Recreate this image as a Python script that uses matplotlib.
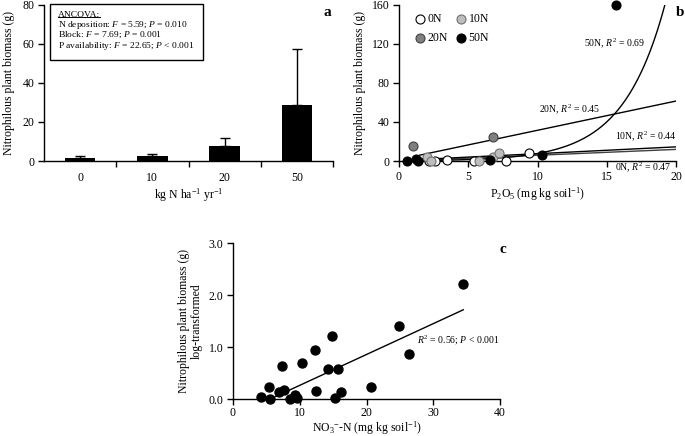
import numpy as np
import matplotlib
matplotlib.use('Agg')
import matplotlib.pyplot as plt
from matplotlib.lines import Line2D
from matplotlib.patches import Rectangle

plt.rcParams['font.family'] = ['Liberation Serif', 'DejaVu Serif']
plt.rcParams['mathtext.fontset'] = 'custom'
plt.rcParams['mathtext.rm'] = 'Liberation Serif'
plt.rcParams['mathtext.it'] = 'Liberation Serif:italic'
plt.rcParams['font.size'] = 8
plt.rcParams['axes.linewidth'] = 1.0

# panel a: mean biomass by N deposition
n_levels = ['0', '10', '20', '50']
biomass_mean = [1.5, 2.5, 7.5, 28.5]
biomass_err = [1.3, 1.3, 4.5, 28.8]

# panel b: biomass vs P2O5, by N treatment
p_0n = [2.2, 2.6, 3.5, 5.4, 7.7, 9.4]
b_0n = [0.5, 0.3, 0.8, 0.2, 0.0, 8.0]
p_10n = [2.0, 2.3, 5.8, 6.8, 7.25]
b_10n = [3.8, 0.2, 0.0, 4.5, 8.0]
p_20n = [1.0, 6.8]
b_20n = [15.5, 25.0]
p_50n = [0.55, 1.25, 1.4, 6.6, 10.3, 15.7]
b_50n = [0.5, 2.5, 0.3, 0.8, 6.5, 160.0]

# trendline coefficients
fit_0n = (0.6, -0.1)      # slope, intercept
fit_10n = (0.7, 0.5)
fit_20n = (3.0, 1.5)
fit_50n = (0.284, 0.33)   # a * exp(b x)

# panel c: log biomass vs nitrate
no3 = [4.2, 5.4, 5.6, 6.9, 7.4, 7.6, 8.5, 9.3, 9.6, 10.3, 12.3, 12.4,
       14.3, 14.9, 15.3, 15.8, 16.2, 20.6, 24.9, 26.4, 34.5]
log_biomass = [0.04, 0.24, 0.0, 0.13, 0.64, 0.18, 0.0, 0.08, 0.02, 0.69, 0.94, 0.16,
               0.57, 1.22, 0.02, 0.58, 0.13, 0.24, 1.41, 0.87, 2.22]
fit_c = (0.0593, -0.33)

fig = plt.figure(figsize=(6.85, 4.36), dpi=100)
W, H = 685, 436


def box(l, t, r, b):
    return [l / W, 1 - b / H, (r - l) / W, (b - t) / H]


def style(ax):
    ax.spines['top'].set_visible(False)
    ax.spines['right'].set_visible(False)
    ax.tick_params(direction='out', length=4, width=1, labelsize=8.5, pad=3)


# ---- panel a ----
ax1 = fig.add_axes(box(44, 5, 333, 161))
style(ax1)
x = np.arange(len(n_levels))
ax1.bar(x, biomass_mean, width=0.42, color='black',
        yerr=[np.zeros(len(x)), biomass_err], capsize=3.5,
        error_kw=dict(ecolor='black', elinewidth=1, capthick=1))
ax1.set_xlim(-0.5, 3.5)
ax1.set_ylim(0, 80)
ax1.set_yticks([0, 20, 40, 60, 80])
ax1.set_xticks(x)
ax1.set_xticklabels(n_levels)
ax1.tick_params(axis='x', which='major', length=0, pad=8)
ax1.set_xticks([0.5, 1.5, 2.5, 3.5], minor=True)
ax1.tick_params(axis='x', which='minor', length=4, width=1, direction='out')
ax1.set_xlabel(r'kg N ha$^{-1}$ yr$^{-1}$', fontsize=8.5, labelpad=2)
ax1.set_ylabel('Nitrophilous plant biomass (g)', fontsize=8.5, labelpad=5)
ax1.text(0.995, 0.95, 'a', transform=ax1.transAxes, fontsize=11,
         fontweight='bold', ha='right', va='center')

ax1.add_patch(Rectangle((0.021, 0.645), 0.53, 0.36, transform=ax1.transAxes,
                        fill=False, edgecolor='black', lw=1, clip_on=False))
lines = ['ANCOVA:',
         r'N deposition: $F$ = 5.59; $P$ = 0.010',
         r'Block: $F$ = 7.69; $P$ = 0.001',
         r'P availability: $F$ = 22.65; $P$ < 0.001']
ys = [0.938, 0.872, 0.806, 0.734]
ttl = None
for s, yy in zip(lines, ys):
    t = ax1.text(0.048, yy, s, transform=ax1.transAxes, fontsize=6.8, va='center')
    if ttl is None:
        ttl = t
fig.canvas.draw()
bb = ttl.get_window_extent().transformed(ax1.transAxes.inverted())
ax1.add_line(Line2D([bb.x0, bb.x1], [bb.y0 + 0.012, bb.y0 + 0.012],
                    transform=ax1.transAxes, color='black', lw=0.7, clip_on=False))

# ---- panel b ----
ax2 = fig.add_axes(box(399, 5, 676, 161))
style(ax2)
ax2.set_xlim(0, 20)
ax2.set_ylim(0, 160)
ax2.set_xticks([0, 5, 10, 15, 20])
ax2.set_yticks([0, 40, 80, 120, 160])

xl = np.linspace(1.5, 20, 50)
ax2.plot(xl, fit_0n[0] * xl + fit_0n[1], color='#404040', lw=1)
ax2.plot(xl, fit_10n[0] * xl + fit_10n[1], color='black', lw=1)
ax2.plot(xl, fit_20n[0] * xl + fit_20n[1], color='black', lw=1)
xe = np.linspace(0.5, np.log(160 / fit_50n[0]) / fit_50n[1], 200)
ax2.plot(xe, fit_50n[0] * np.exp(fit_50n[1] * xe), color='black', lw=1)

ms = 42
h0 = ax2.scatter(p_0n, b_0n, s=ms, facecolor='white', edgecolor='black', lw=0.8,
                 label='0N', zorder=3, clip_on=False)
h10 = ax2.scatter(p_10n, b_10n, s=ms, facecolor='#bdbdbd', edgecolor='#707070', lw=0.8,
                  label='10N', zorder=3, clip_on=False)
h20 = ax2.scatter(p_20n, b_20n, s=ms, facecolor='#808080', edgecolor='#404040', lw=0.8,
                  label='20N', zorder=3, clip_on=False)
h50 = ax2.scatter(p_50n, b_50n, s=ms, facecolor='black', edgecolor='black', lw=0.8,
                  label='50N', zorder=4, clip_on=False)
# ncol fills column-first, so order gives rows 0N/10N and 20N/50N
ax2.legend([h0, h20, h10, h50], ['0N', '20N', '10N', '50N'],
           loc='upper left', ncol=2, frameon=False, fontsize=8.5,
           handletextpad=0.05, columnspacing=0.5, borderaxespad=0.3,
           labelspacing=0.55, bbox_to_anchor=(0.02, 1.0), handlelength=1.2)
ax2.set_xlabel(r'P$_2$O$_5$ (mg kg soil$^{-1}$)', fontsize=8.5, labelpad=2)
ax2.set_ylabel('Nitrophilous plant biomass (g)', fontsize=8.5, labelpad=4)
ax2.text(1.0, 0.95, 'b', transform=ax2.transAxes, fontsize=11,
         fontweight='bold', ha='left', va='center')
ax2.text(17.8, 121, r'50N, $R^2$ = 0.69', fontsize=7, ha='right', va='center')
ax2.text(12.3, 53, r'20N, $R^2$ = 0.45', fontsize=7, ha='center', va='center')
ax2.text(17.8, 25.5, r'10N, $R^2$ = 0.44', fontsize=7, ha='center', va='center')
ax2.text(17.6, -6, r'0N, $R^2$ = 0.47', fontsize=7, ha='center', va='center',
         clip_on=False)

# ---- panel c ----
ax3 = fig.add_axes(box(233, 243, 500, 399))
style(ax3)
ax3.tick_params(axis='x', pad=2)
ax3.set_xlim(0, 40)
ax3.set_ylim(0, 3)
ax3.set_xticks([0, 10, 20, 30, 40])
ax3.set_yticks([0, 1, 2, 3])
ax3.set_yticklabels(['0.0', '1.0', '2.0', '3.0'])
xc = np.linspace(6.3, 34.5, 50)
ax3.plot(xc, fit_c[0] * xc + fit_c[1], color='black', lw=1)
ax3.scatter(no3, log_biomass, s=ms, color='black', zorder=3, clip_on=False)
ax3.set_xlabel(r'NO$_3$$^{-}$-N (mg kg soil$^{-1}$)', fontsize=8.5, labelpad=0)
ax3.set_ylabel('Nitrophilous plant biomass (g)\nlog-transformed', fontsize=8.5,
               labelpad=4, linespacing=1.1)
ax3.text(1.0, 0.96, 'c', transform=ax3.transAxes, fontsize=11,
         fontweight='bold', ha='left', va='center')
ax3.text(27.6, 1.13, r'$R^2$ = 0.56; $P$ < 0.001', fontsize=7, ha='left', va='center')

fig.savefig('out.png', dpi=100)
